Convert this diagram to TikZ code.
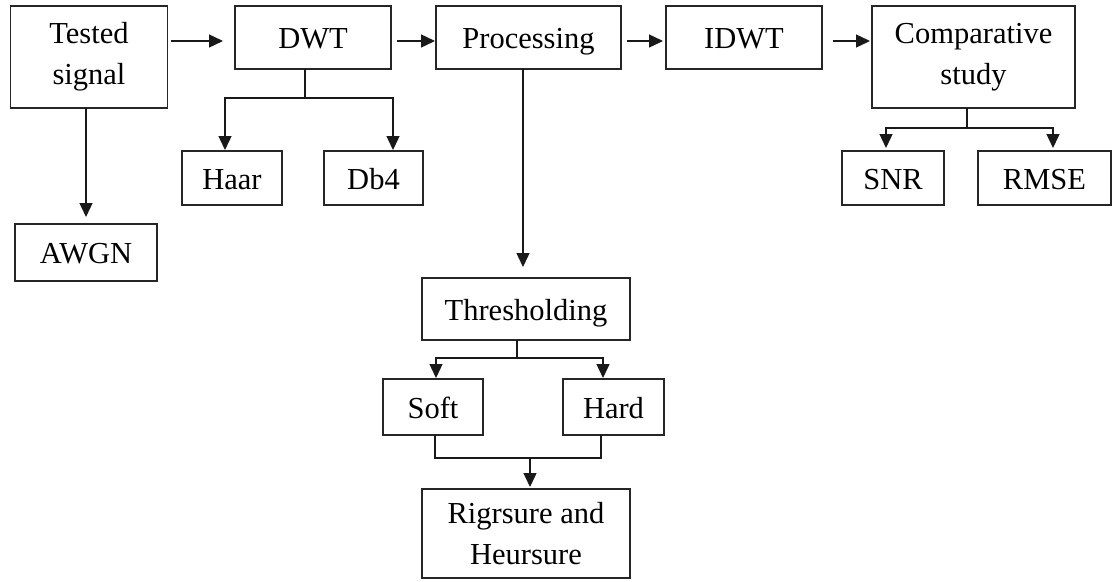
\documentclass[tikz,border=0pt]{standalone}
\usepackage{fontspec}
\setmainfont{Liberation Serif}
\usetikzlibrary{arrows.meta}

\tikzset{
  blk/.style={draw=black!85, line width=1.5pt, rectangle, inner sep=0pt, outer sep=0pt,
              align=center, font=\fontsize{30.5}{41}\selectfont},
  oneline/.style={text height=23pt, text depth=1pt},
  wire/.style={draw=black!90, line width=1.4pt},
  arr/.style={wire, -{Triangle[length=14pt,width=13pt]}},
}

\begin{document}
\begin{tikzpicture}[x=1pt, y=-1pt]
  \useasboundingbox (0,0) rectangle (1113,581);

  % main processing chain
  \node[blk, minimum width=157pt, minimum height=102pt] (ts)   at (89,57)     {Tested\\signal};
  \node[blk, oneline, minimum width=156pt, minimum height=63pt]  (dwt)  at (313,37.5)  {DWT};
  \node[blk, oneline, minimum width=185pt, minimum height=63pt]  (proc) at (528.5,37.5) {Processing};
  \node[blk, oneline, minimum width=156pt, minimum height=63pt]  (idwt) at (744,37.5)  {IDWT};
  \node[blk, minimum width=203pt, minimum height=102pt] (comp) at (973.5,57)  {Comparative\\study};

  % branches
  \node[blk, oneline, minimum width=100pt, minimum height=54pt] (haar) at (232,178)   {Haar};
  \node[blk, oneline, minimum width=99pt,  minimum height=54pt] (db4)  at (373.5,178) {Db4};
  \node[blk, oneline, minimum width=102pt, minimum height=54pt] (snr)  at (893,178)   {SNR};
  \node[blk, oneline, minimum width=133pt, minimum height=54pt] (rmse) at (1044.5,178) {RMSE};
  \node[blk, oneline, minimum width=142pt, minimum height=57pt] (awgn) at (86,252.5)  {AWGN};

  % thresholding sub-chain
  \node[blk, oneline, minimum width=208pt, minimum height=62pt] (thr)  at (526,309)   {Thresholding};
  \node[blk, oneline, minimum width=100pt, minimum height=56pt] (soft) at (433,407)   {Soft};
  \node[blk, oneline, minimum width=101pt, minimum height=56pt] (hard) at (613.5,407) {Hard};
  \node[blk, minimum width=208pt, minimum height=89pt] (rig) at (526,533.5) {Rigrsure and\\Heursure};

  % top row arrows
  \draw[arr, shorten <=3pt, shorten >=12pt] ([yshift=-3.5pt]dwt.west -| ts.east) -- ([yshift=-3.5pt]dwt.west);
  \draw[arr, shorten <=6pt, shorten >=1pt]  ([yshift=-3.5pt]proc.west -| dwt.east) -- ([yshift=-3.5pt]proc.west);
  \draw[arr, shorten <=6pt, shorten >=3pt]  ([yshift=-3.5pt]idwt.west -| proc.east) -- ([yshift=-3.5pt]idwt.west);
  \draw[arr, shorten <=11pt, shorten >=2pt] ([yshift=-3.5pt]idwt.east) -- ([yshift=-3.5pt]idwt.east -| comp.west);

  % noise branch
  \draw[arr, shorten >=7pt] (awgn.north |- ts.south) -- (awgn.north);

  % wavelet choices
  \draw[wire] ([xshift=-8pt]dwt.south) -- ++(0,29) coordinate (dwtfork);
  \draw[arr, shorten >=1pt] (dwtfork) -| ([xshift=-7pt]haar.north);
  \draw[arr, shorten >=1pt] (dwtfork) -| ([xshift=19.5pt]db4.north);

  % processing to thresholding
  \draw[arr, shorten >=11pt] ([xshift=-5.5pt]proc.south) -- ([xshift=-5.5pt]proc.south |- thr.north);

  % threshold types
  \draw[wire] ([xshift=-9pt]thr.south) -- ++(0,18) coordinate (thrfork);
  \draw[arr, shorten >=1pt] (thrfork) -| ([xshift=3pt]soft.north);
  \draw[arr, shorten >=1pt] (thrfork) -| ([xshift=-10.5pt]hard.north);

  % merge into threshold selection rules
  \draw[wire] ([xshift=2pt]soft.south) |- ([xshift=-12.5pt,yshift=-23pt]hard.south) -- ([xshift=-12.5pt]hard.south);
  \coordinate (join) at ([xshift=4pt,yshift=-23pt]rig.north |- soft.south);
  \draw[arr, shorten >=2pt] (join) -- ([xshift=4pt]rig.north);

  % evaluation metrics
  \draw[wire] ([xshift=-6.5pt]comp.south) -- ++(0,20) coordinate (cmpfork);
  \draw[arr, shorten >=3pt] (cmpfork) -| ([xshift=-7pt]snr.north);
  \draw[arr, shorten >=3pt] (cmpfork) -| ([xshift=8.5pt]rmse.north);
\end{tikzpicture}
\end{document}
